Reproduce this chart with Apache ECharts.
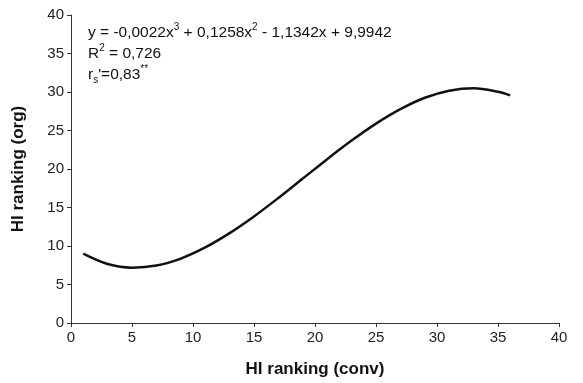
<!DOCTYPE html>
<html>
<head>
<meta charset="utf-8">
<script src="https://cdn.jsdelivr.net/npm/echarts@6/dist/echarts.min.js"></script>
<style>
  html, body { margin: 0; padding: 0; background: #fff; }
  #chart { width: 583px; height: 383px; }
</style>
</head>
<body>
<div id="chart"></div>
<script>
// fitted curve, values
const xValues = [1, 3, 5, 7, 9, 11, 13, 15, 17, 19, 21, 23, 25, 27, 29, 31, 33, 35, 36];
const yValues = [9.0, 7.66, 7.19, 7.46, 8.37, 9.81, 11.67, 13.84, 16.24, 18.76, 21.28, 23.69, 25.89, 27.77, 29.25, 30.17, 30.49, 30.04, 29.56];
const xTicks = [0, 5, 10, 15, 20, 25, 30, 35, 40];
const yTicks = [0, 5, 10, 15, 20, 25, 30, 35, 40];

const chart = echarts.init(document.getElementById('chart'), null, { renderer: 'canvas' });

const font = 'Liberation Sans, Arial, sans-serif';
const axisCommon = {
  axisLine: { show: true, lineStyle: { color: '#333', width: 1 } },
  axisTick: { show: true, length: 4, lineStyle: { color: '#333' } },
  splitLine: { show: false },
  axisLabel: { color: '#222', fontSize: 15, fontFamily: font, margin: 7 },
  nameTextStyle: { color: '#111', fontSize: 17, fontWeight: 'bold', fontFamily: font }
};

chart.setOption({
  animation: false,
  backgroundColor: '#fff',
  grid: { left: 71, right: 24, top: 15, bottom: 57 },
  xAxis: Object.assign({}, axisCommon, {
    type: 'value',
    min: xTicks[0], max: xTicks[xTicks.length - 1], interval: 5,
    name: 'HI ranking (conv)', nameLocation: 'middle', nameGap: 38
  }),
  yAxis: Object.assign({}, axisCommon, {
    type: 'value',
    min: yTicks[0], max: yTicks[yTicks.length - 1], interval: 5,
    name: 'HI ranking (org)', nameLocation: 'middle', nameGap: 44
  }),
  graphic: [{
    type: 'text',
    left: 88, top: 22,
    style: {
      text: '{n|y = -0,0022x}{s|3}{n| + 0,1258x}{s|2}{n| - 1,1342x + 9,9942}\n' +
            '{n|R}{s|2}{n| = 0,726}\n' +
            '{n|r}{b|s}{n|\'=0,83}{s|**}',
      rich: {
        n: { fontSize: 15.5, fontFamily: font, fill: '#111', lineHeight: 21 },
        s: { fontSize: 10, fontFamily: font, fill: '#111', verticalAlign: 'top', lineHeight: 21, padding: [0, 0, 5, 0] },
        b: { fontSize: 10, fontFamily: font, fill: '#111', verticalAlign: 'bottom', lineHeight: 21, padding: [5, 0, 0, 0] }
      }
    }
  }],
  series: [{
    type: 'line',
    data: xValues.map((x, i) => [x, yValues[i]]),
    smooth: 0.35,
    showSymbol: false,
    lineStyle: { color: '#111', width: 2.5 }
  }]
});
</script>
</body>
</html>
